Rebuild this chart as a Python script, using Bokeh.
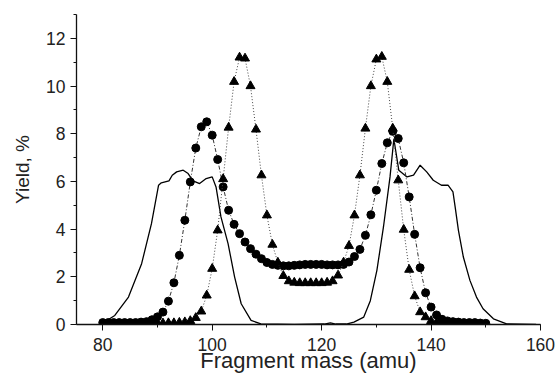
from bokeh.plotting import figure
from bokeh.models import SingleIntervalTicker, Range1d
from bokeh.embed import file_html
from bokeh.resources import INLINE

# Solid curve (calculated distribution)
solid_x = [79.8, 82.2, 84.7, 87.1, 88.9, 90.2, 90.7, 92.1, 92.7, 93.5, 94.7, 95.6, 96.5, 97.7,
           98.9, 100.0, 100.7, 101.6, 102.9, 104.1, 105.3, 107.1, 108.9, 115.0, 120.5, 121.6,
           122.6, 124.5, 125.9, 127.7, 128.9, 130.1, 131.3, 132.5, 133.2, 134.1, 135.6, 136.8,
           138.0, 139.2, 140.4, 141.9, 143.1, 144.0, 144.4, 145.0, 145.9, 147.1, 148.3, 149.5,
           151.4, 153.8, 159.2]
solid_y = [0.03, 0.38, 1.15, 2.55, 4.23, 5.84, 5.94, 6.02, 6.26, 6.40, 6.47, 6.33, 6.02, 5.91,
           6.12, 6.19, 5.77, 4.51, 3.39, 1.99, 0.87, 0.17, 0.03, 0.0, 0.02, 0.07,
           0.02, 0.02, 0.10, 0.31, 1.00, 2.27, 4.09, 6.19, 7.78, 6.47, 6.19, 6.26,
           6.68, 6.40, 6.05, 5.84, 5.84, 5.56, 4.93, 3.95, 2.83, 1.85, 1.15, 0.66,
           0.24, 0.03, 0.0]

# Circles series
circ_x = list(range(80, 151))
circ_y = [0.08, 0.08, 0.08, 0.08, 0.08, 0.08, 0.08, 0.10, 0.12, 0.20,
          0.32, 0.52, 0.98, 1.75, 2.90, 4.37, 5.98, 7.40, 8.29, 8.50,
          7.94, 6.92, 5.77, 4.79, 4.20, 3.81, 3.46, 3.18, 2.95, 2.76,
          2.60, 2.52, 2.48, 2.46, 2.46, 2.48, 2.50, 2.52, 2.52, 2.52,
          2.52, 2.50, 2.50, 2.50, 2.52, 2.62, 2.85, 3.15, 3.74, 4.60,
          5.63, 6.75, 7.62, 8.10, 7.80, 6.78, 5.35, 3.78, 2.38, 1.33,
          0.73, 0.40, 0.22, 0.15, 0.12, 0.10, 0.08, 0.08, 0.08, 0.06,
          0.05]

# Triangles series
tri_x = list(range(88, 143))
tri_y = [0.05, 0.05, 0.05, 0.05, 0.06, 0.06, 0.08, 0.10, 0.15, 0.28,
         0.55, 1.22, 2.34, 3.95, 6.10, 8.26, 10.18, 11.20, 11.16, 10.00,
         8.18, 6.26, 4.58, 3.35, 2.60, 2.04, 1.82, 1.76, 1.74, 1.74,
         1.74, 1.74, 1.74, 1.76, 1.82, 2.06, 2.60, 3.30, 4.58, 6.26,
         8.22, 10.00, 11.12, 11.23, 10.18, 8.22, 6.05, 3.98, 2.30, 1.19,
         0.52, 0.31, 0.15, 0.08, 0.05]

x_tick_interval = 20
y_tick_interval = 2

FONT = "Liberation Sans"

p = figure(width=556, height=376,
           x_range=Range1d(75.2, 160), y_range=Range1d(0, 13),
           output_backend="svg", toolbar_location=None,
           min_border_left=76, min_border_right=16,
           min_border_top=14, min_border_bottom=52)
p.background_fill_color = "white"
p.border_fill_color = "white"
p.outline_line_color = None
p.grid.visible = False

p.line(solid_x, solid_y, line_color="black", line_width=1.3)
p.line(circ_x, circ_y, line_color="#333333", line_width=1, line_dash="4 2 1 2")
p.scatter(circ_x, circ_y, marker="circle", size=8, fill_color="black", line_color="black")
p.line(tri_x, tri_y, line_color="#444444", line_width=1, line_dash="1 2")
p.scatter(tri_x, tri_y, marker="triangle", size=9, fill_color="black", line_color="black")

xa = p.xaxis[0]
xa.ticker = SingleIntervalTicker(interval=x_tick_interval, num_minor_ticks=2)
xa.axis_label = "Fragment mass (amu)"
ya = p.yaxis[0]
ya.ticker = SingleIntervalTicker(interval=y_tick_interval, num_minor_ticks=2)
ya.axis_label = "Yield, %"

for ax in (xa, ya):
    ax.axis_line_color = "#111111"
    ax.axis_line_width = 1.3
    ax.major_tick_line_color = "#111111"
    ax.minor_tick_line_color = "#111111"
    ax.major_tick_out = 6
    ax.major_tick_in = 0
    ax.minor_tick_out = 3
    ax.minor_tick_in = 0
    ax.major_label_text_font = FONT
    ax.major_label_text_color = "#222222"
    ax.axis_label_text_font = FONT
    ax.axis_label_text_font_style = "normal"
    ax.axis_label_text_color = "#222222"

xa.major_label_text_font_size = "17.5px"
xa.major_label_standoff = 7
xa.axis_label_text_font_size = "22px"
xa.axis_label_standoff = -6

ya.major_label_text_font_size = "17.5px"
ya.major_label_standoff = 5
ya.axis_label_text_font_size = "19px"
ya.axis_label_standoff = 10

open("out.html", "w").write(file_html(p, INLINE))
